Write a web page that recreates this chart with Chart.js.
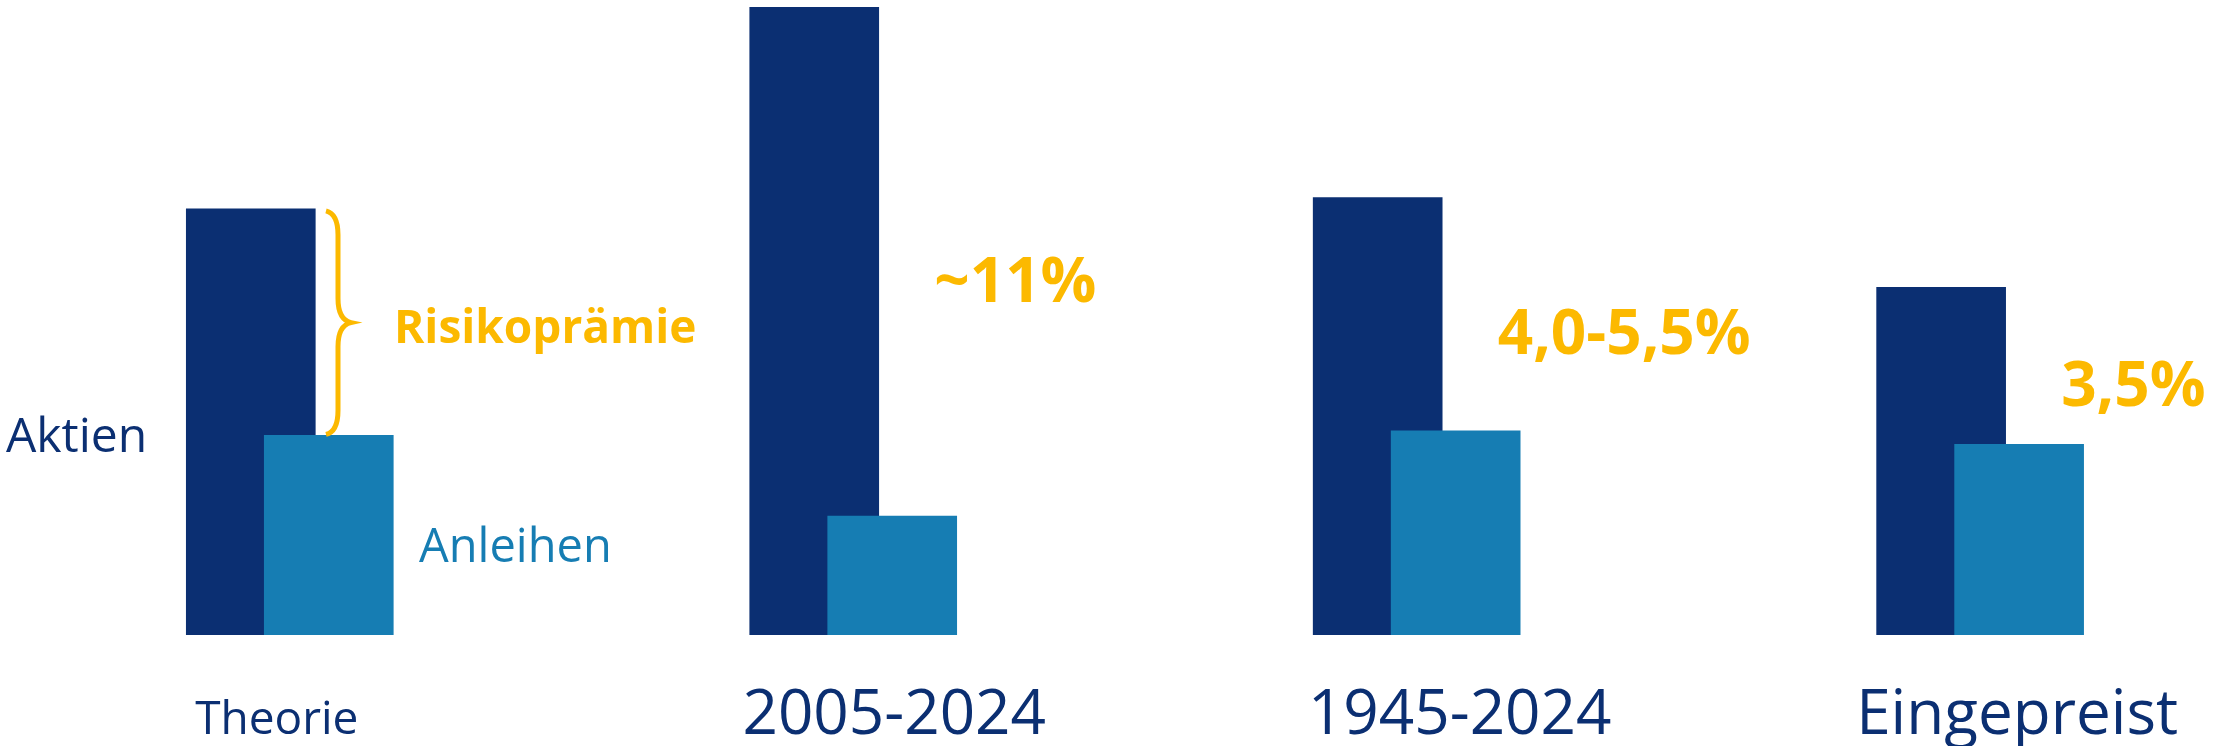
<!DOCTYPE html>
<html>
<head>
<meta charset="utf-8">
<script src="https://cdn.jsdelivr.net/npm/chart.js@4"></script>
<style>
  html, body { margin: 0; padding: 0; background: #ffffff; }
  #wrap { width: 2217px; height: 746px; }
</style>
</head>
<body>
<div id="wrap"><canvas id="chart" width="2217" height="746"></canvas></div>
<script>
// categories and values (approx. % p.a.)
const categories = ['Theorie', '2005-2024', '1945-2024', 'Eingepreist']
const aktien = [9.5, 14.0, 9.75, 7.75]
const anleihen = [4.45, 2.65, 4.55, 4.25]
const praemieLabels = ['Risikoprämie', '~11%', '4,0-5,5%', '3,5%']

const NAVY = '#0b2f72'
const BLUE = '#167db3'
const GOLD = '#fcb900'
const FONT = '"Open Sans", "Noto Sans", sans-serif'

const SHIFT = 0.0692 // half the offset between the two overlapping bars

const textPlugin = {
    id: 'texts',
    afterDatasetsDraw(chart) {
        const ctx = chart.ctx
        const x = chart.scales.x
        const y = chart.scales.y
        ctx.save()
        ctx.textBaseline = 'alphabetic'

        // category labels under the bars
        const labelShift = [-13, 41, 43, 37]
        categories.forEach((c, i) => {
            ctx.fillStyle = NAVY
            ctx.textAlign = 'center'
            ctx.font = (i === 0 ? '46px ' : '62px ') + FONT
            ctx.fillText(c, x.getPixelForValue(i) + labelShift[i], 734)
        })

        // series names
        ctx.textAlign = 'left'
        ctx.font = '48px ' + FONT
        ctx.fillStyle = NAVY
        ctx.fillText('Aktien', 6, 452)
        ctx.font = '47px ' + FONT
        ctx.fillStyle = BLUE
        ctx.fillText('Anleihen', 419, 562)

        // brace for the theory premium
        const top = y.getPixelForValue(aktien[0]) + 2
        const bot = y.getPixelForValue(anleihen[0]) - 1
        const mid = (top + bot) / 2
        ctx.strokeStyle = GOLD
        ctx.lineWidth = 5
        ctx.beginPath()
        ctx.moveTo(326, top)
        ctx.bezierCurveTo(334, top + 2, 338, top + 10, 338, top + 24)
        ctx.lineTo(338, mid - 24)
        ctx.bezierCurveTo(338, mid - 10, 342, mid - 2, 351, mid)
        ctx.bezierCurveTo(342, mid + 2, 338, mid + 10, 338, mid + 24)
        ctx.lineTo(338, bot - 24)
        ctx.bezierCurveTo(338, bot - 10, 334, bot - 2, 326, bot)
        ctx.stroke()

        ctx.fillStyle = GOLD
        ctx.font = 'bold 46px ' + FONT
        ctx.fillText(praemieLabels[0], 394, 343)

        // premium values next to the bars
        ctx.font = 'bold 62px ' + FONT
        for (let i = 1; i < categories.length; i++) {
            const mid = (y.getPixelForValue(aktien[i]) + y.getPixelForValue(anleihen[i])) / 2
            ctx.fillText(praemieLabels[i], x.getPixelForValue(i) + 81, mid + 40)
        }
        ctx.restore()
    }
}

new Chart(document.getElementById('chart'), {
    type: 'bar',
    data: {
        datasets: [
            {
                label: 'Aktien',
                backgroundColor: NAVY,
                data: aktien.map((v, i) => ({x: i - SHIFT, y: v})),
                barThickness: 129,
                grouped: false,
                order: 2
            },
            {
                label: 'Anleihen',
                backgroundColor: BLUE,
                data: anleihen.map((v, i) => ({x: i + SHIFT, y: v})),
                barThickness: 129,
                grouped: false,
                order: 1
            }
        ]
    },
    options: {
        responsive: false,
        animation: false,
        devicePixelRatio: 1,
        layout: { padding: { top: 7, bottom: 111, left: 0, right: 0 } },
        plugins: { legend: { display: false }, tooltip: { enabled: false } },
        scales: {
            x: { type: 'linear', offset: false, min: -0.5143, max: 3.4204, display: false },
            y: { min: 0, max: 14, display: false }
        }
    },
    plugins: [textPlugin]
})
</script>
</body>
</html>
